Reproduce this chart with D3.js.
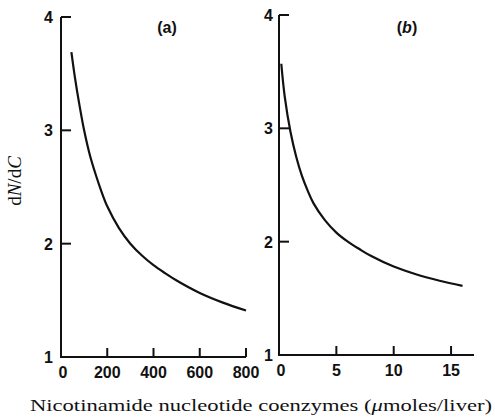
<!DOCTYPE html>
<html>
<head>
<meta charset="utf-8">
<script src="https://cdn.jsdelivr.net/npm/d3@7"></script>
<style>
  body { margin: 0; background: #fff; }
  .tick-lbl { font-family: "Liberation Sans", Arial, sans-serif; font-size: 16px; font-weight: bold; fill: #111; }
  .serif { font-family: "Liberation Serif", "DejaVu Serif", serif; fill: #111; }
</style>
</head>
<body>
<script>
// panel (a): x in umoles/liver
var aX = [45, 60, 80, 100, 125, 150, 175, 200, 250, 300, 350, 400, 450, 500, 600, 700, 800];
var aY = [3.69, 3.47, 3.22, 3.00, 2.78, 2.61, 2.46, 2.33, 2.14, 2.00, 1.895, 1.81, 1.74, 1.675, 1.565, 1.48, 1.41];
// panel (b)
var bX = [0.2, 0.5, 1.0, 1.5, 2.0, 2.5, 3.0, 4.0, 5.0, 6.0, 7.0, 8.0, 10, 12, 14, 16];
var bY = [3.57, 3.28, 2.97, 2.75, 2.58, 2.45, 2.34, 2.19, 2.08, 2.00, 1.935, 1.875, 1.78, 1.71, 1.655, 1.61];

var yTicks = [1, 2, 3, 4];
var aTicks = [0, 200, 400, 600, 800];
var bTicks = [0, 5, 10, 15];

var width = 495, height = 418;

var svg = d3.select("body").append("svg")
	.attr("width", width)
	.attr("height", height);

function panel(cfg) {
	var x = d3.scaleLinear().domain(cfg.xDomain).range(cfg.xRange);
	var y = d3.scaleLinear().domain([1, 4]).range(cfg.yRange);
	var g = svg.append("g");

	// spines
	g.append("line")
		.attr("x1", x(0)).attr("x2", x(0))
		.attr("y1", y(1)).attr("y2", y(4))
		.attr("stroke", "#111").attr("stroke-width", 2);
	g.append("line")
		.attr("x1", x(0) - 1).attr("x2", x(cfg.xDomain[1]))
		.attr("y1", y(1)).attr("y2", y(1))
		.attr("stroke", "#111").attr("stroke-width", 2);

	// y ticks point inward
	g.selectAll(".yt").data(yTicks.filter(d => d > 1)).enter().append("line")
		.attr("x1", x(0)).attr("x2", x(0) + 10)
		.attr("y1", d => y(d)).attr("y2", d => y(d))
		.attr("stroke", "#111").attr("stroke-width", 2);
	g.selectAll(".yl").data(yTicks).enter().append("text")
		.attr("class", "tick-lbl")
		.attr("x", x(0) - cfg.yLabGap)
		.attr("y", d => y(d) + 6)
		.attr("text-anchor", "end")
		.text(d => d);

	// x ticks point up
	g.selectAll(".xt").data(cfg.xTicks.filter(d => d > 0)).enter().append("line")
		.attr("x1", d => x(d)).attr("x2", d => x(d))
		.attr("y1", y(1)).attr("y2", y(1) - 9)
		.attr("stroke", "#111").attr("stroke-width", 2);
	g.selectAll(".xl").data(cfg.xTicks).enter().append("text")
		.attr("class", "tick-lbl")
		.attr("x", d => x(d) + (d == 0 ? 2 : 0))
		.attr("y", y(1) + 21)
		.attr("text-anchor", "middle")
		.text(d => d);

	var line = d3.line()
		.x(d => x(d[0]))
		.y(d => y(d[1]))
		.curve(d3.curveCatmullRom.alpha(0.5));
	g.append("path")
		.datum(d3.zip(cfg.xs, cfg.ys))
		.attr("d", line)
		.attr("fill", "none")
		.attr("stroke", "#111")
		.attr("stroke-width", 2.2);

	g.append("text")
		.attr("class", "tick-lbl")
		.attr("x", cfg.tagX).attr("y", 33)
		.attr("text-anchor", "middle")
		.attr("font-weight", "normal")
		.html(cfg.tag);
}

panel({xDomain: [0, 800], xRange: [61, 246], yRange: [357, 17], xTicks: aTicks,
	xs: aX, ys: aY, yLabGap: 8, tagX: 167, tag: "(a)"});
panel({xDomain: [0, 17], xRange: [279, 474], yRange: [355, 15], xTicks: bTicks,
	xs: bX, ys: bY, yLabGap: 6, tagX: 407, tag: "(<tspan font-style='italic'>b</tspan>)"});

// axis titles
svg.append("text")
	.attr("class", "serif")
	.attr("transform", "translate(21,181) rotate(-90)")
	.attr("text-anchor", "middle")
	.attr("font-size", 19)
	.html("d<tspan font-style='italic'>N</tspan>/d<tspan font-style='italic'>C</tspan>");

svg.append("text")
	.attr("class", "serif")
	.attr("x", 30).attr("y", 411)
	.attr("font-size", 17)
	.attr("textLength", 462)
	.attr("lengthAdjust", "spacingAndGlyphs")
	.html("Nicotinamide nucleotide coenzymes (<tspan font-style='italic'>μ</tspan>moles/liver)");
</script>
</body>
</html>
